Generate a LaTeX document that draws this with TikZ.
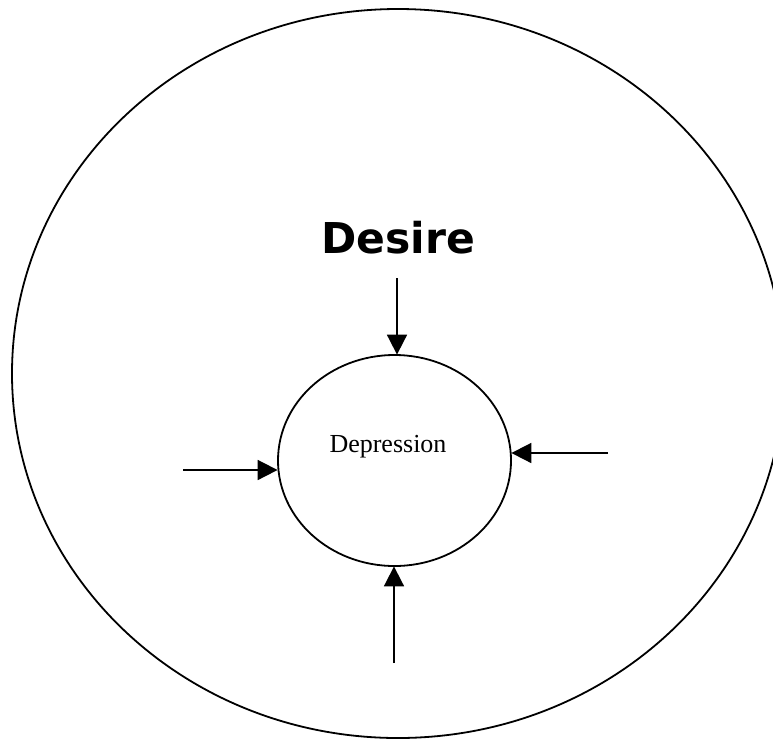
\documentclass[tikz,border=0pt]{standalone}
\usepackage{fontspec}
\setmainfont{Liberation Serif}
\newfontfamily\desirefont{DejaVu Sans}
\usetikzlibrary{arrows.meta,shapes.geometric}
\tikzset{
  ring/.style={draw=black, line width=1.8pt, ellipse, inner sep=0pt},
  push/.style={line width=1.8pt, -{Triangle[width=20pt,length=20pt]}, shorten >=-0.5pt},
}
\begin{document}
\begin{tikzpicture}[x=1pt,y=1pt]
\useasboundingbox (0,0) rectangle (773,-740);
\clip (0,0) rectangle (773,-740);
\node[ring, minimum width=772pt, minimum height=729pt] (outer) at (398,-373.5) {};
\node[ring, minimum width=233pt, minimum height=211pt] (dep) at (394.5,-460.5) {};
\node[font=\desirefont\bfseries\fontsize{42.5}{50}\selectfont, anchor=base] (desire) at (398,-253) {Desire};
\node[font=\fontsize{26}{30}\selectfont, anchor=base] (deptext) at (388,-452) {Depression};
\coordinate (ttail) at (397,-278);
\coordinate (btail) at (394,-663);
\coordinate (ltail) at (183,-470);
\coordinate (rtail) at (608,-453);
\draw[push] (ttail) -- (ttail |- dep.north);
\draw[push] (btail) -- (btail |- dep.south);
\draw[push] (ltail) -- (ltail -| dep.west);
\draw[push] (rtail) -- (rtail -| dep.east);
\end{tikzpicture}
\end{document}
